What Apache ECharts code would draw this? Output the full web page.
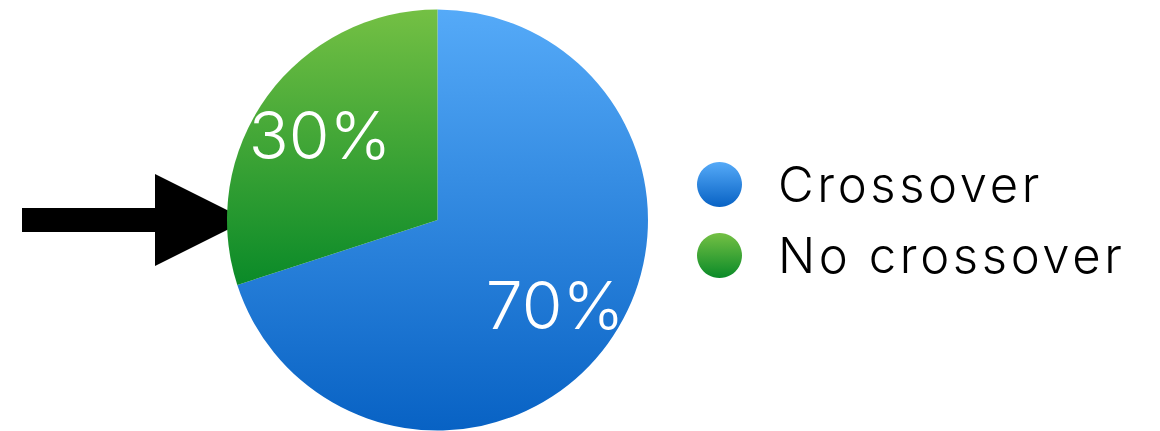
<!DOCTYPE html>
<html>
<head>
<meta charset="utf-8">
<script src="https://cdn.jsdelivr.net/npm/echarts@6/dist/echarts.min.js"></script>
<style>
  html, body { margin: 0; padding: 0; background: #fff; }
  #chart { width: 1160px; height: 431px; }
  /* looser tracking for the legend entries */
  #chart text { letter-spacing: 3.6px; }
  #chart text[fill="#fff"], #chart text[fill="#ffffff"], #chart text[fill="rgb(255,255,255)"] { letter-spacing: 0; }
</style>
</head>
<body>
<div id="chart"></div>
<script>
// Share of cases with and without crossover
const categories = ['Crossover', 'No crossover'];
const values = [70, 30];

const FONT = 'Inter, "Liberation Sans", Arial, sans-serif';

const gradients = [
  new echarts.graphic.LinearGradient(0, 0, 0, 1, [
    { offset: 0, color: '#55aaf8' },
    { offset: 1, color: '#0862c4' }
  ]),
  new echarts.graphic.LinearGradient(0, 0, 0, 1, [
    { offset: 0, color: '#74c044' },
    { offset: 1, color: '#0a8a28' }
  ])
];

const pieData = categories.map((name, i) => ({
  name,
  value: values[i],
  itemStyle: { color: gradients[i] }
}));

const labelData = categories.map((name, i) => ({
  name,
  value: values[i],
  itemStyle: { color: 'rgba(0,0,0,0)' }
}));

const chart = echarts.init(document.getElementById('chart'), null, { renderer: 'svg' });

chart.setOption({
  animation: false,
  legend: {
    orient: 'vertical',
    left: 692,
    top: 155,
    icon: 'circle',
    itemWidth: 45,
    itemHeight: 45,
    itemGap: 22,
    data: categories,
    textStyle: {
      fontFamily: FONT,
      fontSize: 49,
      fontWeight: 300,
      color: '#000',
      lineHeight: 45,
      padding: [0, 0, 0, 31]
    },
    selectedMode: false
  },
  graphic: [
    {
      type: 'polygon',
      silent: true,
      shape: {
        points: [[22, 208], [155, 208], [155, 174], [247, 220], [155, 266], [155, 232], [22, 232]]
      },
      style: { fill: '#000' }
    }
  ],
  series: [
    {
      type: 'pie',
      center: [437.5, 220],
      radius: [0, 210.5],
      startAngle: 90,
      clockwise: true,
      silent: true,
      label: { show: false },
      labelLine: { show: false },
      data: pieData
    },
    {
      // label ring: places the percentage text partway out from the centre
      type: 'pie',
      center: [437.5, 220],
      radius: [74, 210.5],
      startAngle: 90,
      clockwise: true,
      silent: true,
      legendHoverLink: false,
      label: {
        show: true,
        position: 'inside',
        formatter: '{d}%',
        color: '#fff',
        fontFamily: FONT,
        fontSize: 66,
        fontWeight: 300
      },
      labelLine: { show: false },
      data: labelData
    }
  ]
});
</script>
</body>
</html>
